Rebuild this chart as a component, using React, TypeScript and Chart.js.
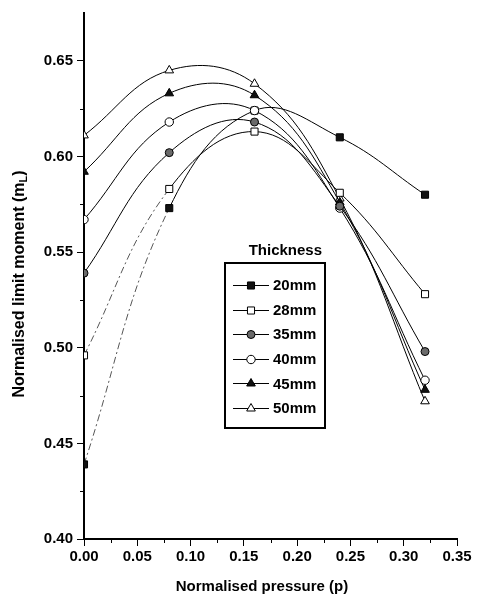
import React, { useEffect, useRef } from 'react';
import { Chart, registerables } from 'chart.js';

Chart.register(...registerables);

// ---------- data ----------
const pressure = [0, 0.08, 0.16, 0.24, 0.32];
const t20 = [0.439, 0.573, 0.624, 0.61, 0.58];
const t28 = [0.496, 0.583, 0.613, 0.581, 0.528];
const t35 = [0.539, 0.602, 0.618, 0.574, 0.498];
const t40 = [0.567, 0.618, 0.624, 0.573, 0.483];
const t45 = [0.592, 0.633, 0.632, 0.576, 0.478];
const t50 = [0.611, 0.645, 0.638, 0.578, 0.472];
const seriesLabels = ['20mm', '28mm', '35mm', '40mm', '45mm', '50mm'];
const legendTitle = 'Thickness';
const xTitle = 'Normalised pressure (p)';
const yTitleMain = 'Normalised limit moment (m';
const yTitleSub = 'L';
const yTitleEnd = ')';
const xTicks = [0, 0.05, 0.1, 0.15, 0.2, 0.25, 0.3, 0.35];
const yTicks = [0.4, 0.45, 0.5, 0.55, 0.6, 0.65];
const xMinor = [0.025, 0.075, 0.125, 0.175, 0.225, 0.275, 0.325];
const yMinor = [0.425, 0.475, 0.525, 0.575, 0.625];

const seriesValues = [t20, t28, t35, t40, t45, t50];
const markerStyles = ['rect', 'rect', 'circle', 'circle', 'triangle', 'triangle'];
const markerFills = ['#111111', '#ffffff', '#6a6a6a', '#ffffff', '#111111', '#ffffff'];
const markerRadius = [5, 5, 4, 4.2, 5, 5];
const dashedFirst = [true, true, false, false, false, false];
const drawOrder = [10, 0, 0, 0, 0, 0];

const FONT = '"Liberation Sans", Arial, Helvetica, sans-serif';

function drawMarker(ctx: CanvasRenderingContext2D, style: string, x: number, y: number, r: number, fill: string) {
  ctx.save();
  ctx.beginPath();
  if (style === 'rect') {
    const s = Math.SQRT1_2 * r;
    ctx.rect(x - s, y - s, 2 * s, 2 * s);
  } else if (style === 'circle') {
    ctx.arc(x, y, r, 0, Math.PI * 2);
  } else {
    const rad = -Math.PI / 2;
    for (let i = 0; i < 3; i++) {
      const a = rad + (i * 2 * Math.PI) / 3;
      const px = x + Math.cos(a) * r;
      const py = y + Math.sin(a) * r;
      if (i === 0) ctx.moveTo(px, py);
      else ctx.lineTo(px, py);
    }
    ctx.closePath();
  }
  ctx.fillStyle = fill;
  ctx.fill();
  ctx.lineWidth = 1;
  ctx.strokeStyle = '#000';
  ctx.stroke();
  ctx.restore();
}

const decorPlugin = {
  id: 'decor',
  afterDraw(chart: any) {
    const ctx: CanvasRenderingContext2D = chart.ctx;
    const xs = chart.scales.x;
    const ys = chart.scales.y;
    const area = chart.chartArea;
    ctx.save();
    // minor ticks
    ctx.strokeStyle = '#000';
    ctx.lineWidth = 1;
    ctx.beginPath();
    xMinor.forEach((v) => {
      const px = Math.round(xs.getPixelForValue(v)) + 0.5;
      ctx.moveTo(px, area.bottom);
      ctx.lineTo(px, area.bottom + 4);
    });
    yMinor.forEach((v) => {
      const py = Math.round(ys.getPixelForValue(v)) + 0.5;
      ctx.moveTo(area.left, py);
      ctx.lineTo(area.left - 4, py);
    });
    ctx.stroke();

    // axis titles
    ctx.fillStyle = '#000';
    ctx.font = `bold 15px ${FONT}`;
    ctx.textAlign = 'center';
    ctx.textBaseline = 'alphabetic';
    ctx.fillText(xTitle, 262, 591);

    ctx.save();
    ctx.translate(24, 284);
    ctx.rotate(-Math.PI / 2);
    ctx.font = `bold 16px ${FONT}`;
    const wMain = ctx.measureText(yTitleMain).width;
    const wEnd = ctx.measureText(yTitleEnd).width;
    ctx.font = `bold 11px ${FONT}`;
    const wSub = ctx.measureText(yTitleSub).width;
    const total = wMain + wSub + wEnd;
    let cx = -total / 2;
    ctx.textAlign = 'left';
    ctx.font = `bold 16px ${FONT}`;
    ctx.fillText(yTitleMain, cx, 0);
    cx += wMain;
    ctx.font = `bold 11px ${FONT}`;
    ctx.fillText(yTitleSub, cx, 3);
    cx += wSub;
    ctx.font = `bold 16px ${FONT}`;
    ctx.fillText(yTitleEnd, cx, 0);
    ctx.restore();

    // legend
    const bx = 225, by = 263, bw = 100, bh = 165;
    ctx.lineWidth = 2;
    ctx.strokeStyle = '#000';
    ctx.strokeRect(bx, by, bw, bh);
    ctx.font = `bold 15px ${FONT}`;
    ctx.textAlign = 'right';
    ctx.textBaseline = 'middle';
    ctx.fillText(legendTitle, 322, 251);
    ctx.textAlign = 'left';
    seriesLabels.forEach((lab, i) => {
      const y = 285 + i * 24.6;
      ctx.lineWidth = 1;
      ctx.beginPath();
      ctx.moveTo(233, Math.round(y) + 0.5);
      ctx.lineTo(269, Math.round(y) + 0.5);
      ctx.stroke();
      drawMarker(ctx, markerStyles[i], 251, Math.round(y) + 0.5, markerRadius[i], markerFills[i]);
      ctx.fillStyle = '#000';
      ctx.fillText(lab, 273, y + 1);
    });
    ctx.restore();
  },
};

export default function App() {
  const ref = useRef<HTMLCanvasElement | null>(null);
  useEffect(() => {
    document.body.style.margin = '0';
    const canvas = ref.current!;
    const datasets = seriesValues.map((vals, i) => ({
      label: seriesLabels[i],
      data: vals.map((v, j) => ({ x: pressure[j], y: v })),
      order: drawOrder[i],
      borderColor: '#000',
      borderWidth: 1,
      tension: 0.4,
      pointStyle: markerStyles[i],
      pointRadius: markerRadius[i],
      pointBackgroundColor: markerFills[i],
      pointBorderColor: '#000',
      pointBorderWidth: 1,
      fill: false,
      segment: dashedFirst[i]
        ? {
            borderDash: (c: any) => (c.p0DataIndex === 0 ? [7, 3, 2, 3] : undefined),
            borderColor: (c: any) => (c.p0DataIndex === 0 ? '#555' : undefined),
          }
        : undefined,
    }));
    const chart = new Chart(canvas, {
      type: 'line',
      data: { datasets },
      options: {
        responsive: false,
        animation: false,
        devicePixelRatio: 1,
        layout: { padding: { left: 0, top: 7, right: 21, bottom: 0 } },
        plugins: { legend: { display: false }, tooltip: { enabled: false }, title: { display: false } },
        scales: {
          x: {
            type: 'linear',
            min: 0,
            max: 0.35,
            afterFit: (s: any) => { s.height = 63; },
            afterBuildTicks: (s: any) => { s.ticks = xTicks.map((v) => ({ value: v })); },
            ticks: {
              color: '#000',
              padding: 2,
              maxRotation: 0,
              autoSkip: false,
              font: { family: FONT, size: 15, weight: 'bold' },
              callback: (v: any) => Number(v).toFixed(2),
            },
            grid: { display: true, drawOnChartArea: false, tickLength: 7, color: '#000', lineWidth: 1 },
            border: { display: true, color: '#000', width: 2 },
          },
          y: {
            type: 'linear',
            min: 0.4,
            max: 0.675,
            afterFit: (s: any) => { s.width = 84; },
            afterBuildTicks: (s: any) => { s.ticks = yTicks.map((v) => ({ value: v })); },
            ticks: {
              color: '#000',
              padding: 4,
              autoSkip: false,
              font: { family: FONT, size: 15, weight: 'bold' },
              callback: (v: any) => Number(v).toFixed(2),
            },
            grid: { display: true, drawOnChartArea: false, tickLength: 7, color: '#000', lineWidth: 1 },
            border: { display: true, color: '#000', width: 2 },
          },
        },
      } as any,
      plugins: [decorPlugin],
    });
    return () => chart.destroy();
  }, []);
  return <canvas ref={ref} width={478} height={602} style={{ display: 'block' }} />;
}
